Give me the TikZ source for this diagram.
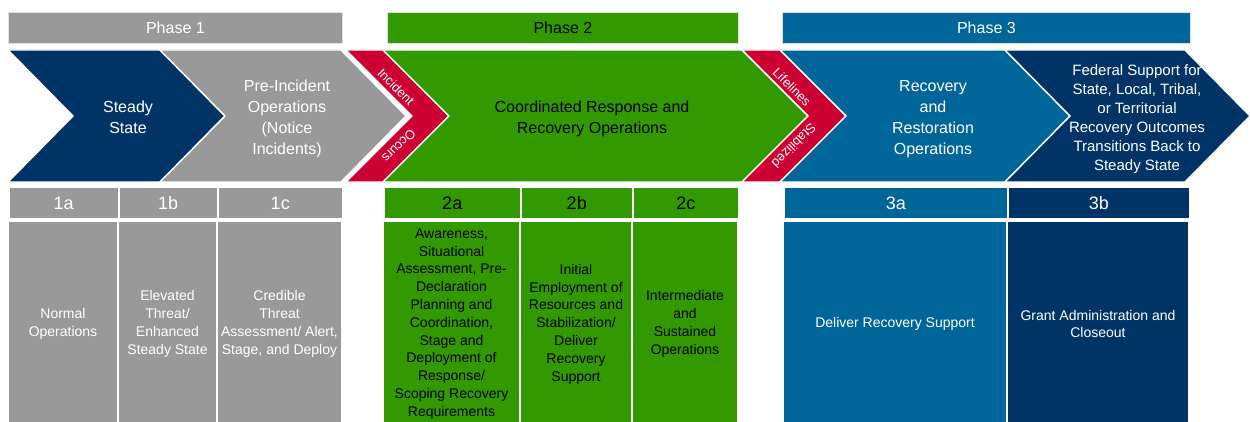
\documentclass[tikz,border=0pt]{standalone}
\usepackage{fontspec}
\setmainfont{Liberation Sans}
\definecolor{navy}{RGB}{0,52,102}
\definecolor{fblue}{RGB}{0,102,153}
\definecolor{fgreen}{RGB}{51,153,0}
\definecolor{fred}{RGB}{204,0,51}
\definecolor{fgray}{RGB}{153,153,153}
\definecolor{edge}{RGB}{225,225,225}
\begin{document}
\begin{tikzpicture}[x=1pt,y=-1pt,
  shp/.style={draw=white,line width=1.4pt,line join=miter},
  phasehdr/.style={inner sep=0pt,minimum width=#1,minimum height=31pt,anchor=north west,font=\fontsize{16}{20}\selectfont,draw=edge,line width=0.8pt},
  chevtxt/.style={align=center,inner sep=0pt,font=\fontsize{16}{21}\selectfont},
  armtxt/.style={inner sep=0pt,text=white,font=\fontsize{13}{14}\selectfont},
  cellhdr/.style={inner sep=0pt,minimum width=#1,minimum height=31pt,anchor=north west,font=\fontsize{18}{20}\selectfont,draw=white,line width=1.5pt},
  cellbody/.style={inner sep=0pt,minimum width=#1,minimum height=210pt,anchor=north west,align=center,font=\fontsize{14}{17.8}\selectfont,draw=white,line width=1.5pt},
  bodytxt/.style={align=center,inner sep=0pt,font=\fontsize{14}{17.8}\selectfont}
]
\useasboundingbox (0,0) rectangle (1250,422);

% phase headers
\node[phasehdr=334pt,fill=fgray,text=white] (p1) at (8,12) {Phase 1};
\node[phasehdr=351pt,fill=fgreen,text=black] (p2) at (387,12) {Phase 2};
\node[phasehdr=408pt,fill=fblue,text=white] (p3) at (782,12) {Phase 3};

% chevrons
\fill[edge] (8,49) rectangle (342,50);
\path[shp,fill=navy] (8,50) -- (160,50) -- (225,116) -- (160,182) -- (8,182) -- (73,116) -- cycle;
\path[shp,fill=fgray] (160,50) -- (341,50) -- (406,116) -- (341,182) -- (160,182) -- (225,116) -- cycle;
\path[shp,fill=fred] (346,50) -- (383,50) -- (449,116) -- (383,182) -- (346,182) -- (412,116) -- cycle;
\path[shp,fill=fgreen] (383,50) -- (742,50) -- (808,116) -- (742,182) -- (383,182) -- (449,116) -- cycle;
\path[shp,fill=fred] (742,50) -- (780,50) -- (846,116) -- (780,182) -- (742,182) -- (808,116) -- cycle;
\path[shp,fill=fblue] (780,50) -- (1005,50) -- (1070,116) -- (1005,182) -- (780,182) -- (846,116) -- cycle;
\path[shp,fill=navy] (1005,50) -- (1185,50) -- (1250,116) -- (1185,182) -- (1005,182) -- (1070,116) -- cycle;

% chevron texts
\node[chevtxt,text=white] (ss) at (128,117) {Steady\\State};
\node[chevtxt,text=white] (pio) at (287,119) {Pre-Incident\\Operations\\(Notice\\Incidents)};
\node[armtxt,rotate=-45] (inc) at (396,87) {Incident};
\node[armtxt,rotate=-135] (occ) at (399,146) {Occurs};
\node[chevtxt,text=black] (crr) at (592,119) {Coordinated Response and\\Recovery Operations};
\node[armtxt,rotate=-45] (lif) at (792,87) {Lifelines};
\node[armtxt,rotate=-135] (stab) at (794,146) {Stabilized};
\node[chevtxt,text=white] (rro) at (933,119) {Recovery\\and\\Restoration\\Operations};
\node[chevtxt,text=white,font=\fontsize{15}{19}\selectfont] (fed) at (1137,119) {Federal Support for\\State, Local, Tribal,\\or Territorial\\Recovery Outcomes\\Transitions Back to\\Steady State};

% phase 1 table
\node[cellhdr=110pt,fill=fgray,text=white] (h1a) at (8,187) {1a};
\node[cellhdr=99pt,fill=fgray,text=white] (h1b) at (118,187) {1b};
\node[cellhdr=125pt,fill=fgray,text=white] (h1c) at (217,187) {1c};
\path[cellbody=110pt,fill=fgray] (8,221) rectangle (118,432);
\path[cellbody=99pt,fill=fgray] (118,221) rectangle (217,432);
\path[cellbody=125pt,fill=fgray] (217,221) rectangle (342,432);
\node[bodytxt,text=white] (b1a) at (63,324) {Normal\\Operations};
\node[bodytxt,text=white] (b1b) at (167.5,324) {Elevated\\Threat/\\Enhanced\\Steady State};
\node[bodytxt,text=white] (b1c) at (279.5,324) {Credible\\Threat\\Assessment/ Alert,\\Stage, and Deploy};

% phase 2 table
\node[cellhdr=137pt,fill=fgreen,text=black] (h2a) at (383,187) {2a};
\node[cellhdr=112pt,fill=fgreen,text=black] (h2b) at (520,187) {2b};
\node[cellhdr=106pt,fill=fgreen,text=black] (h2c) at (632,187) {2c};
\path[cellbody=137pt,fill=fgreen] (383,221) rectangle (520,432);
\path[cellbody=112pt,fill=fgreen] (520,221) rectangle (632,432);
\path[cellbody=106pt,fill=fgreen] (632,221) rectangle (738,432);
\node[bodytxt,text=black] (b2a) at (451.5,324) {Awareness,\\Situational\\Assessment, Pre-\\Declaration\\Planning and\\Coordination,\\Stage and\\Deployment of\\Response/\\Scoping Recovery\\Requirements};
\node[bodytxt,text=black] (b2b) at (576,324) {Initial\\Employment of\\Resources and\\Stabilization/\\Deliver\\Recovery\\Support};
\node[bodytxt,text=black] (b2c) at (685,324) {Intermediate\\and\\Sustained\\Operations};

% phase 3 table
\node[cellhdr=224pt,fill=fblue,text=white] (h3a) at (783,187) {3a};
\node[cellhdr=182pt,fill=navy,text=white] (h3b) at (1007,187) {3b};
\path[cellbody=224pt,fill=fblue] (783,221) rectangle (1007,432);
\path[cellbody=182pt,fill=navy] (1007,221) rectangle (1189,432);
\node[bodytxt,text=white] (b3a) at (895,324) {Deliver Recovery Support};
\node[bodytxt,text=white] (b3b) at (1098,324) {Grant Administration and\\Closeout};
\end{tikzpicture}
\end{document}
